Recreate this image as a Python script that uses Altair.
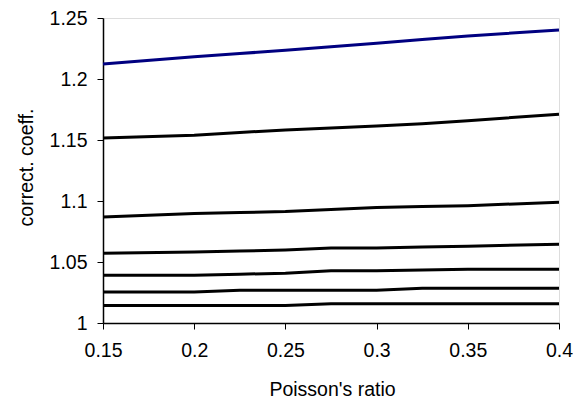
import altair as alt
import pandas as pd

# Poisson's ratio values (x)
poisson = [0.15, 0.2, 0.225, 0.25, 0.275, 0.3, 0.325, 0.35, 0.4]

# correction coefficient curves (y)
curve_1 = [1.2123, 1.2183, 1.2209, 1.2235, 1.2264, 1.2293, 1.2323, 1.2353, 1.2402]
curve_2 = [1.1517, 1.1538, 1.1562, 1.1582, 1.1598, 1.1614, 1.1633, 1.1658, 1.1712]
curve_3 = [1.0869, 1.0897, 1.0905, 1.0913, 1.0930, 1.0946, 1.0954, 1.0962, 1.0989]
curve_4 = [1.0571, 1.0581, 1.0590, 1.0598, 1.0614, 1.0614, 1.0622, 1.0630, 1.0646]
curve_5 = [1.0391, 1.0391, 1.0400, 1.0408, 1.0429, 1.0429, 1.0435, 1.0440, 1.0440]
curve_6 = [1.0255, 1.0255, 1.0269, 1.0269, 1.0269, 1.0269, 1.0285, 1.0285, 1.0285]
curve_7 = [1.0144, 1.0144, 1.0144, 1.0144, 1.0157, 1.0157, 1.0157, 1.0157, 1.0157]

series_names = ["c1", "c2", "c3", "c4", "c5", "c6", "c7"]
series_colors = ["#000080", "#000000", "#000000", "#000000", "#000000", "#000000", "#000000"]
curves = [curve_1, curve_2, curve_3, curve_4, curve_5, curve_6, curve_7]

x_ticks = [0.15, 0.2, 0.25, 0.3, 0.35, 0.4]
y_ticks = [1.0, 1.05, 1.1, 1.15, 1.2, 1.25]

rows = []
for name, vals in zip(series_names, curves):
    for xv, yv in zip(poisson, vals):
        rows.append({"series": name, "nu": xv, "coef": yv})
df = pd.DataFrame(rows)

FONT = "Liberation Sans"
FS = 19.5

chart = (
    alt.Chart(df)
    .mark_line(strokeWidth=3, interpolate="linear")
    .encode(
        x=alt.X(
            "nu:Q",
            scale=alt.Scale(domain=[0.15, 0.4], nice=False, zero=False),
            axis=alt.Axis(
                title="Poisson's ratio",
                values=x_ticks,
                format=".2~f",
                grid=False,
                domainColor="#000000",
                domainWidth=1.5,
                tickColor="#000000",
                tickSize=6,
                tickWidth=1,
                labelPadding=12,
                labelFont=FONT,
                labelFontSize=FS,
                labelColor="#000000",
                titleFont=FONT,
                titleFontSize=FS,
                titleFontWeight="normal",
                titleColor="#000000",
                titleX=229,
                titleY=72,
                titleAlign="center",
                titleBaseline="alphabetic",
                labelFlush=False,
                labelOverlap=False,
            ),
        ),
        y=alt.Y(
            "coef:Q",
            scale=alt.Scale(domain=[1.0, 1.25], nice=False, zero=False),
            axis=alt.Axis(
                title="correct. coeff.",
                values=y_ticks,
                format=".2~f",
                grid=False,
                domainColor="#000000",
                domainWidth=1.5,
                tickColor="#000000",
                tickSize=6,
                tickWidth=1,
                labelPadding=10,
                labelFont=FONT,
                labelFontSize=FS,
                labelColor="#000000",
                titleFont=FONT,
                titleFontSize=FS,
                titleFontWeight="normal",
                titleColor="#000000",
                titleAngle=270,
                titleX=-71,
                titleY=149,
                titleAlign="center",
                titleBaseline="alphabetic",
                labelFlush=False,
                labelOverlap=False,
            ),
        ),
        color=alt.Color(
            "series:N",
            scale=alt.Scale(domain=series_names, range=series_colors),
            legend=None,
        ),
        detail="series:N",
    )
    .properties(
        width=456,
        height=305,
        autosize="none",
        padding={"left": 95, "top": 10, "right": 14, "bottom": 75},
    )
    .configure_view(stroke="#808080", strokeWidth=1)
    .configure(background="#ffffff")
)

chart.save("out.html", embed_options={"renderer": "svg", "actions": False})
